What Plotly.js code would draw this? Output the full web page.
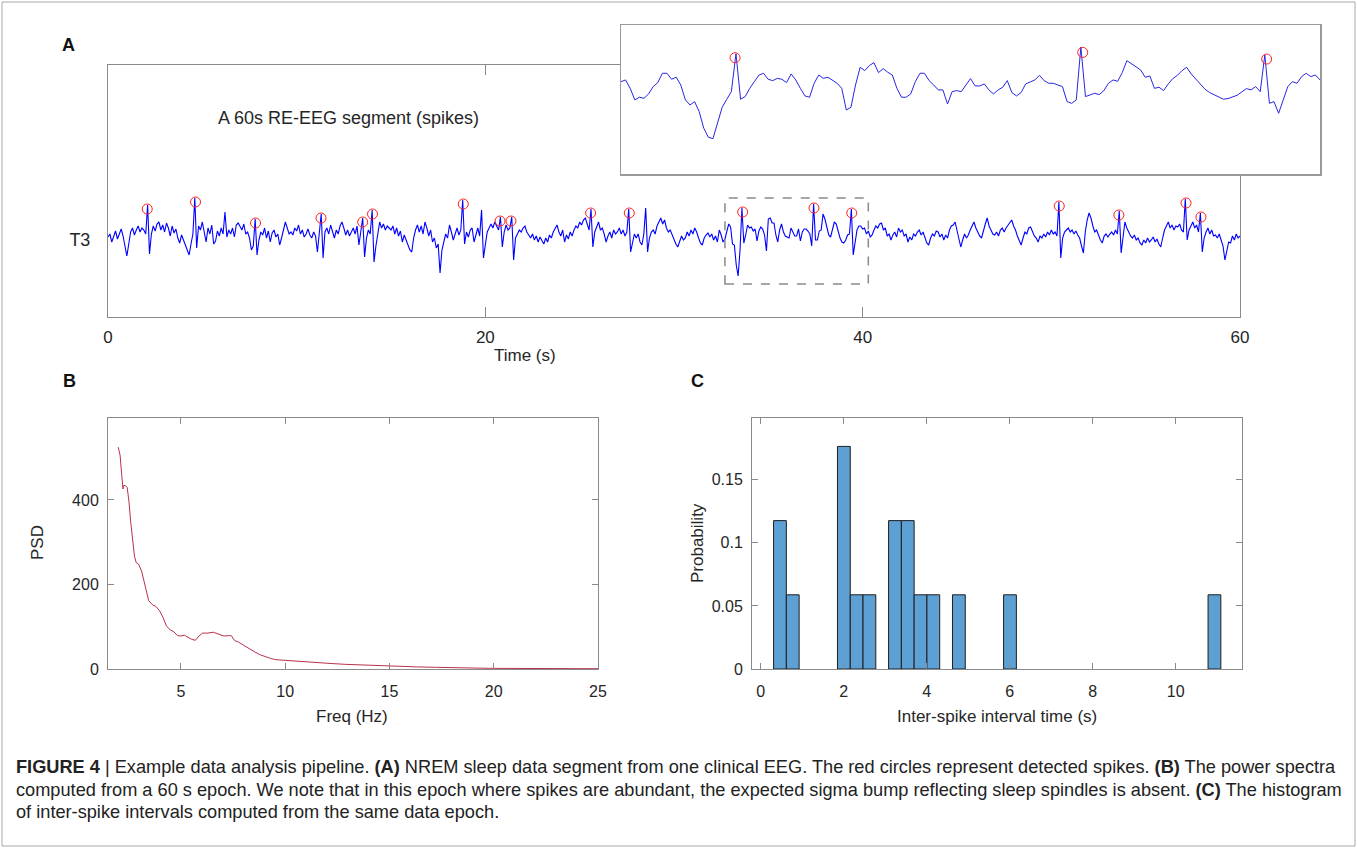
<!DOCTYPE html>
<html><head><meta charset="utf-8">
<script src="https://cdn.plot.ly/plotly-3.0.1.min.js"></script>
<style>html,body{margin:0;padding:0;background:#fff;}#chart{width:1357px;height:848px;}</style>
</head><body><div id="chart"></div>
<script>
// ---------------- DATA ----------------
// Panel A: 60 s T3 trace, digitised at 10 samples/s (arbitrary µV units)
const eegSampleRate = 10;
const eegT3 = [
  3, 6, -2, 4, 9, 1, 7, 11, 4, -6,
  -16, -4, 8, 12, 5, 10, 14, 8, 12, 10,
  6, 35, -14, 6, 14, 9, 16, 18, 10, 15,
  8, 17, 12, 4, 14, 7, 11, 2, -3, 5,
  0, -6, -10, -15, -4, 6, 42, -8, 14, 10,
  18, 8, -2, 12, 6, 15, -4, -1, 9, 4,
  12, 6, 28, 3, 10, 6, 12, 3, 15, 17,
  14, 10, 16, 6, 8, 2, -10, -6, 21, -15,
  0, 8, 5, 12, 2, 9, -2, 7, 10, 3,
  6, -5, 2, 10, 18, 12, 6, 8, 5, 12,
  9, 15, 6, 10, 3, 6, 11, 5, 2, 8,
  4, -12, 6, 26, -18, 8, 12, 6, 15, 9,
  2, 10, 6, 14, 18, 12, 5, 10, 4, 8,
  12, 6, 14, -5, 8, 22, -17, 2, 10, 6,
  30, -22, -6, 6, 18, 12, 16, 10, 14, 12,
  10, 14, 6, 12, 4, 9, -2, 5, 0, -6,
  -10, -12, 2, 10, 15, 8, 14, 6, 18, 12,
  4, 10, -2, 2, -8, -4, -33, -10, -2, 6,
  2, 15, 8, 0, 6, 12, 5, 10, 40, -4,
  8, 3, 10, 12, -2, 6, 12, 4, 30, -18,
  -2, 8, 12, 16, 12, 18, 14, 10, 23, -7,
  8, 15, 10, 12, 23, -20, 2, 6, 10, 8,
  12, 14, 8, 5, 2, 6, 0, 4, -2, 3,
  0, -4, 2, -2, 5, 2, 8, 12, 15, 8,
  4, 10, -2, 5, 1, 8, 4, 10, 14, 12,
  18, 15, 20, 22, 16, 10, 31, -7, 8, 14,
  18, 10, 12, 6, -2, 4, 8, 2, 10, 6,
  8, 12, 6, 10, 4, 8, 31, -12, -4, 6,
  2, 6, -2, -5, 6, 32, -12, 2, 8, 10,
  6, 14, 18, 22, 16, 20, 12, 8, 10, 5,
  2, -4, -7, -2, 4, 0, 2, 8, 4, 10,
  6, 12, 8, 2, -3, -5, 2, 5, 7, 3,
  6, 0, 4, -2, 10, 5, -2, 1, 9, 16,
  13, -4, -5, -25, -36, -10, 32, -3, 5, 15,
  12, 13, 9, 11, -1, 9, 13, 11, 5, -11,
  21, 22, 17, 17, 5, -2, 10, 16, 8, 4,
  3, 2, 12, 7, 4, 4, 11, -1, 8, 11,
  11, 9, 6, -6, 36, 0, 0, 9, 10, 26,
  21, 13, 5, 3, 12, 18, 16, 8, 2, -2,
  -3, 0, 5, 6, 31, -15, -4, 10, 14, 14,
  11, 12, 6, 9, 3, 5, 10, 14, 12, 16,
  17, 10, 12, 4, 6, 0, 5, 8, 3, 12,
  8, 10, 4, 6, -2, 3, 0, 6, 4, 8,
  10, 5, 8, 2, -3, -5, 2, 6, 4, 9,
  8, 3, 6, 0, 5, 2, 10, 14, 15, 18,
  10, 2, -7, 0, 6, 2, 5, 10, 14, 18,
  12, 8, 4, 2, 10, 16, 22, 14, 10, 6,
  5, 8, 4, 10, 12, 8, 12, 15, 18, 20,
  14, 10, 4, 0, -5, 2, 8, 6, 12, 13,
  8, 4, 2, -2, 4, 2, 6, 3, 8, 5,
  10, 6, 8, 4, 38, -18, 2, 8, 10, 12,
  8, 10, 6, 9, 5, 2, -6, -13, 8, 20,
  27, 22, 14, 8, 10, 4, 0, -3, 4, 6,
  3, 6, 8, 5, 10, 6, 29, -13, 6, 18,
  12, 8, 4, 2, 5, 0, 2, -3, -5, 0,
  -3, 2, -2, 0, 3, -2, 1, -4, -7, 2,
  10, 14, 18, 12, 15, 10, 14, 13, 16, 10,
  8, 41, 0, 10, 14, 18, 12, 15, 8, 27,
  -12, 2, 8, 12, 6, 10, 4, 5, 2, 6,
  0, -6, -20, -10, -2, -3, 4, 0, 6, 2,
  4
];
// detected spikes (red circles)
const spikeTimes = [2.08, 4.64, 7.82, 11.29, 13.5, 14.02, 18.83, 20.78, 21.36, 25.58, 27.63, 33.64, 37.42, 39.42, 50.42, 53.58, 57.14, 57.93];
const spikeAmps  = [31, 38, 17, 22, 18, 26, 36, 19, 19, 27, 27, 28, 32, 27, 34, 25, 37, 23];

// Inset: zoomed view, digitised at 20 samples/s starting at 32.4 s
const insetStart = 32.4;
const insetSampleRate = 20;
const insetT3 = [
  10.0, 11.3, 5.0, -3.7, -1.7, -2.5, 0.8, 6.3, 9.3, 16.3,
  16.3, 11.8, 13.3, 7.5, -3.7, -7.5, -5.0, -12.5, -25.0, -31.8,
  -32.8, -21.8, -9.3, -3.2, 2.5, 31, -3.2, -1.2, 5.0, 10.0,
  15.0, 16.3, 11.8, 10.8, 12.5, 11.8, 9.3, 15.8, 11.3, 5.0,
  -0.7, -1.7, 8.8, 15.0, 12.5, 13.3, 10.8, 8.8, 5.0, -11.3,
  -9.3, 7.5, 20.8, 18.3, 22.1, 24.3, 16.8, 19.8, 17.1, 15.0,
  5.0, -1.7, -1.7, 0.8, 10.0, 16.3, 16.3, 10.8, 7.5, 3.8,
  3.8, -6.8, 2.5, 3.3, 2.5, 7.5, 12.3, 6.8, 6.8, 8.3,
  3.8, 0.8, 3.8, 5.8, 10.8, 1.8, -0.7, 1.8, 8.3, 9.8,
  11.3, 14.8, 10.8, 8.8, 8.8, 7.5, 6.3, -5.0, -6.3, -3.7,
  36, -1.2, 0.0, 1.3, 0.3, 3.3, 8.8, 11.3, 10.3, 16.8,
  25.8, 23.3, 21.3, 18.8, 13.3, 14.3, 5.0, 5.8, 3.3, 8.3,
  12.3, 14.8, 18.3, 20.8, 15.8, 11.8, 7.8, 4.3, 1.8, 0.0,
  -2.0, -3.2, -2.7, -1.2, -0.2, 2.3, 4.8, 3.8, 6.3, 2.5,
  30, -6.3, -5.0, -13.8, -3.7, 6.3, 10.0, 8.8, 13.8, 16.3,
  13.8, 15.0, 11.3
];
// dashed rectangle marking the zoomed window in panel A
const zoomWindowTime = [32.7, 40.3];
const zoomWindowAmp  = [-44, 42];

// Panel B: power spectral density
const psdFreq = [1.99, 2.08, 2.16, 2.22, 2.25, 2.34, 2.42, 2.51, 2.59, 2.68,
  2.77, 2.85, 2.97, 3.11, 3.28, 3.45, 3.63, 3.80, 3.97, 4.14,
  4.31, 4.48, 4.66, 4.83, 5.0, 5.17, 5.34, 5.52, 5.69, 5.86,
  6.03, 6.29, 6.55, 6.80, 7.06, 7.32, 7.41, 7.58, 7.75, 8.01,
  8.26, 8.52, 8.78, 9.04, 9.30, 9.55, 9.81, 10.15, 10.5, 11.0,
  11.5, 12.2, 12.9, 13.6, 14.3, 15.0, 15.6, 16.3, 17.2, 18.1,
  18.9, 19.8, 21.5, 23.2, 25.0];
const psdPower = [525, 506, 458, 426, 434, 434, 430, 394, 347, 299,
  267, 252, 248, 232, 196, 162, 152, 148, 138, 122,
  101, 93, 88, 79, 78, 80, 75, 70, 68, 78,
  85, 85, 87, 83, 78, 79, 79, 67, 64, 56,
  48, 41, 34, 29, 25, 22, 21, 21, 19, 17,
  15, 13, 11, 9.5, 8, 7, 6.5, 5, 4, 3,
  2.2, 1.6, 1.2, 0.9, 0.7];

// Panel C: histogram bins of inter-spike intervals
const isiBins = {start: 0.31, end: 11.1, size: 0.308};

// ---------------- derived ----------------
const eegTime = eegT3.map((v, i) => i / eegSampleRate);
const insetTime = insetT3.map((v, i) => insetStart + i / insetSampleRate);
const isi = spikeTimes.slice(1).map((t, i) => +(t - spikeTimes[i]).toFixed(3));
const insetEnd = insetTime[insetTime.length - 1];
const inIdx = spikeTimes.map((t, i) => i).filter(i => spikeTimes[i] >= insetStart && spikeTimes[i] <= insetEnd);

// ---------------- layout helpers ----------------
const W = 1357, H = 848;
const fx = x => x / W;
const fy = y => 1 - y / H;
const FONT = 'Liberation Sans, Arial, Helvetica, sans-serif';
const TXT = '#262626';
const AX = '#8a8a8a';

const traces = [
  {x: eegTime, y: eegT3, type: 'scatter', mode: 'lines', xaxis: 'x', yaxis: 'y',
   line: {color: '#0000ff', width: 1.1}, hoverinfo: 'skip'},
  {x: spikeTimes, y: spikeAmps, type: 'scatter', mode: 'markers', xaxis: 'x', yaxis: 'y',
   marker: {symbol: 'circle-open', size: 10, color: '#ff2020', line: {width: 1}}, hoverinfo: 'skip'},
  {x: psdFreq, y: psdPower, type: 'scatter', mode: 'lines', xaxis: 'x2', yaxis: 'y2',
   line: {color: '#b8324a', width: 1}, hoverinfo: 'skip'},
  {x: isi, type: 'histogram', histnorm: 'probability', xbins: isiBins, xaxis: 'x3', yaxis: 'y3',
   marker: {color: 'rgb(93,160,212)', line: {color: '#1e1e1e', width: 1}}, hoverinfo: 'skip'},
  {x: insetTime, y: insetT3, type: 'scatter', mode: 'lines', xaxis: 'x4', yaxis: 'y4',
   line: {color: '#2626e6', width: 1}, hoverinfo: 'skip'},
  {x: inIdx.map(i => spikeTimes[i]), y: inIdx.map(i => spikeAmps[i]), type: 'scatter', mode: 'markers', xaxis: 'x4', yaxis: 'y4',
   marker: {symbol: 'circle-open', size: 10, color: '#ff2020', line: {width: 1}}, hoverinfo: 'skip'}
];

const baseAxis = {showline: true, linecolor: AX, linewidth: 1, zeroline: false, showgrid: false,
  tickcolor: AX, tickfont: {family: FONT, size: 16, color: TXT}, fixedrange: true};

const layout = {
  width: W, height: H, margin: {l: 0, r: 0, t: 0, b: 0},
  paper_bgcolor: '#ffffff', plot_bgcolor: '#ffffff', showlegend: false,
  font: {family: FONT, color: TXT},
  xaxis: Object.assign({}, baseAxis, {domain: [fx(108), fx(1240)], anchor: 'y', range: [0, 60],
    tickvals: [0, 20, 40, 60], ticks: 'inside', ticklen: 10, mirror: 'ticks',
    tickfont: {family: FONT, size: 17, color: TXT}, ticklabelstandoff: 5}),
  yaxis: Object.assign({}, baseAxis, {domain: [fy(317), fy(65)], anchor: 'x', range: [-77, 175],
    tickvals: [0], ticktext: ['T3'], ticks: '', mirror: true,
    tickfont: {family: FONT, size: 18, color: TXT}, ticklabelstandoff: 13}),
  xaxis2: Object.assign({}, baseAxis, {domain: [fx(108), fx(598)], anchor: 'y2', range: [1.5, 25],
    tickvals: [5, 10, 15, 20, 25], ticks: 'inside', ticklen: 6, mirror: 'ticks', ticklabelstandoff: 8}),
  yaxis2: Object.assign({}, baseAxis, {domain: [fy(669), fy(418)], anchor: 'x2', range: [0, 594],
    tickvals: [0, 200, 400], ticks: 'inside', ticklen: 6, mirror: 'ticks', ticklabelstandoff: 5}),
  xaxis3: Object.assign({}, baseAxis, {domain: [fx(752), fx(1242)], anchor: 'y3', range: [-0.21, 11.6],
    tickvals: [0, 2, 4, 6, 8, 10], ticks: 'inside', ticklen: 6, mirror: 'ticks', ticklabelstandoff: 8}),
  yaxis3: Object.assign({}, baseAxis, {domain: [fy(669), fy(418)], anchor: 'x3', range: [0, 0.199],
    tickvals: [0, 0.05, 0.1, 0.15], ticktext: ['0', '0.05', '0.1', '0.15'], ticks: 'inside', ticklen: 6,
    mirror: 'ticks', ticklabelstandoff: 5}),
  xaxis4: Object.assign({}, baseAxis, {domain: [fx(621), fx(1320)], anchor: 'y4', range: [insetStart, insetEnd],
    showticklabels: false, ticks: '', mirror: true, linecolor: '#9a9a9a', linewidth: 1.5}),
  yaxis4: Object.assign({}, baseAxis, {domain: [fy(174), fy(25)], anchor: 'x4', range: [-59.4, 52.6],
    showticklabels: false, ticks: '', mirror: true, linecolor: '#9a9a9a', linewidth: 1.5}),
  shapes: [
    {type: 'rect', xref: 'x', yref: 'y', x0: zoomWindowTime[0], x1: zoomWindowTime[1],
     y0: zoomWindowAmp[0], y1: zoomWindowAmp[1], line: {color: '#8a8a8a', width: 1.5, dash: 'dash'}},
    {type: 'rect', xref: 'paper', yref: 'paper', x0: fx(2), x1: fx(1355), y0: fy(846), y1: fy(2),
     line: {color: '#a8a8a8', width: 1}}
  ],
  annotations: []
};

function note(text, x, y, size, opts) {
  layout.annotations.push(Object.assign({text: text, x: fx(x), y: fy(y), xref: 'paper', yref: 'paper',
    showarrow: false, xanchor: 'center', yanchor: 'middle',
    font: {family: FONT, size: size, color: TXT}}, opts || {}));
}
note('<b>A</b>', 68, 45, 18, {font: {family: FONT, size: 18, color: '#111'}});
note('<b>B</b>', 69, 381, 18, {font: {family: FONT, size: 18, color: '#111'}});
note('<b>C</b>', 697, 381, 18, {font: {family: FONT, size: 18, color: '#111'}});
note('A 60s RE-EEG segment (spikes)', 348, 118, 18);
note('Time (s)', 525, 355, 17);
note('Freq (Hz)', 352, 716, 17);
note('Inter-spike interval time (s)', 997, 716, 17);
note('PSD', 37, 543, 17, {textangle: -90});
note('Probability', 697, 543, 17, {textangle: -90});

const capFont = {family: FONT, size: 18.2, color: '#222'};
note('<b>FIGURE 4</b> | Example data analysis pipeline. <b>(A)</b> NREM sleep data segment from one clinical EEG. The red circles represent detected spikes. <b>(B)</b> The power spectra',
  14, 767, 18.2, {xanchor: 'left', font: capFont});
note('computed from a 60 s epoch. We note that in this epoch where spikes are abundant, the expected sigma bump reflecting sleep spindles is absent. <b>(C)</b> The histogram',
  14, 790, 18.2, {xanchor: 'left', font: capFont});
note('of inter-spike intervals computed from the same data epoch.',
  14, 812, 18.2, {xanchor: 'left', font: capFont});

Plotly.newPlot('chart', traces, layout, {staticPlot: true, displayModeBar: false});
</script>
</body></html>
